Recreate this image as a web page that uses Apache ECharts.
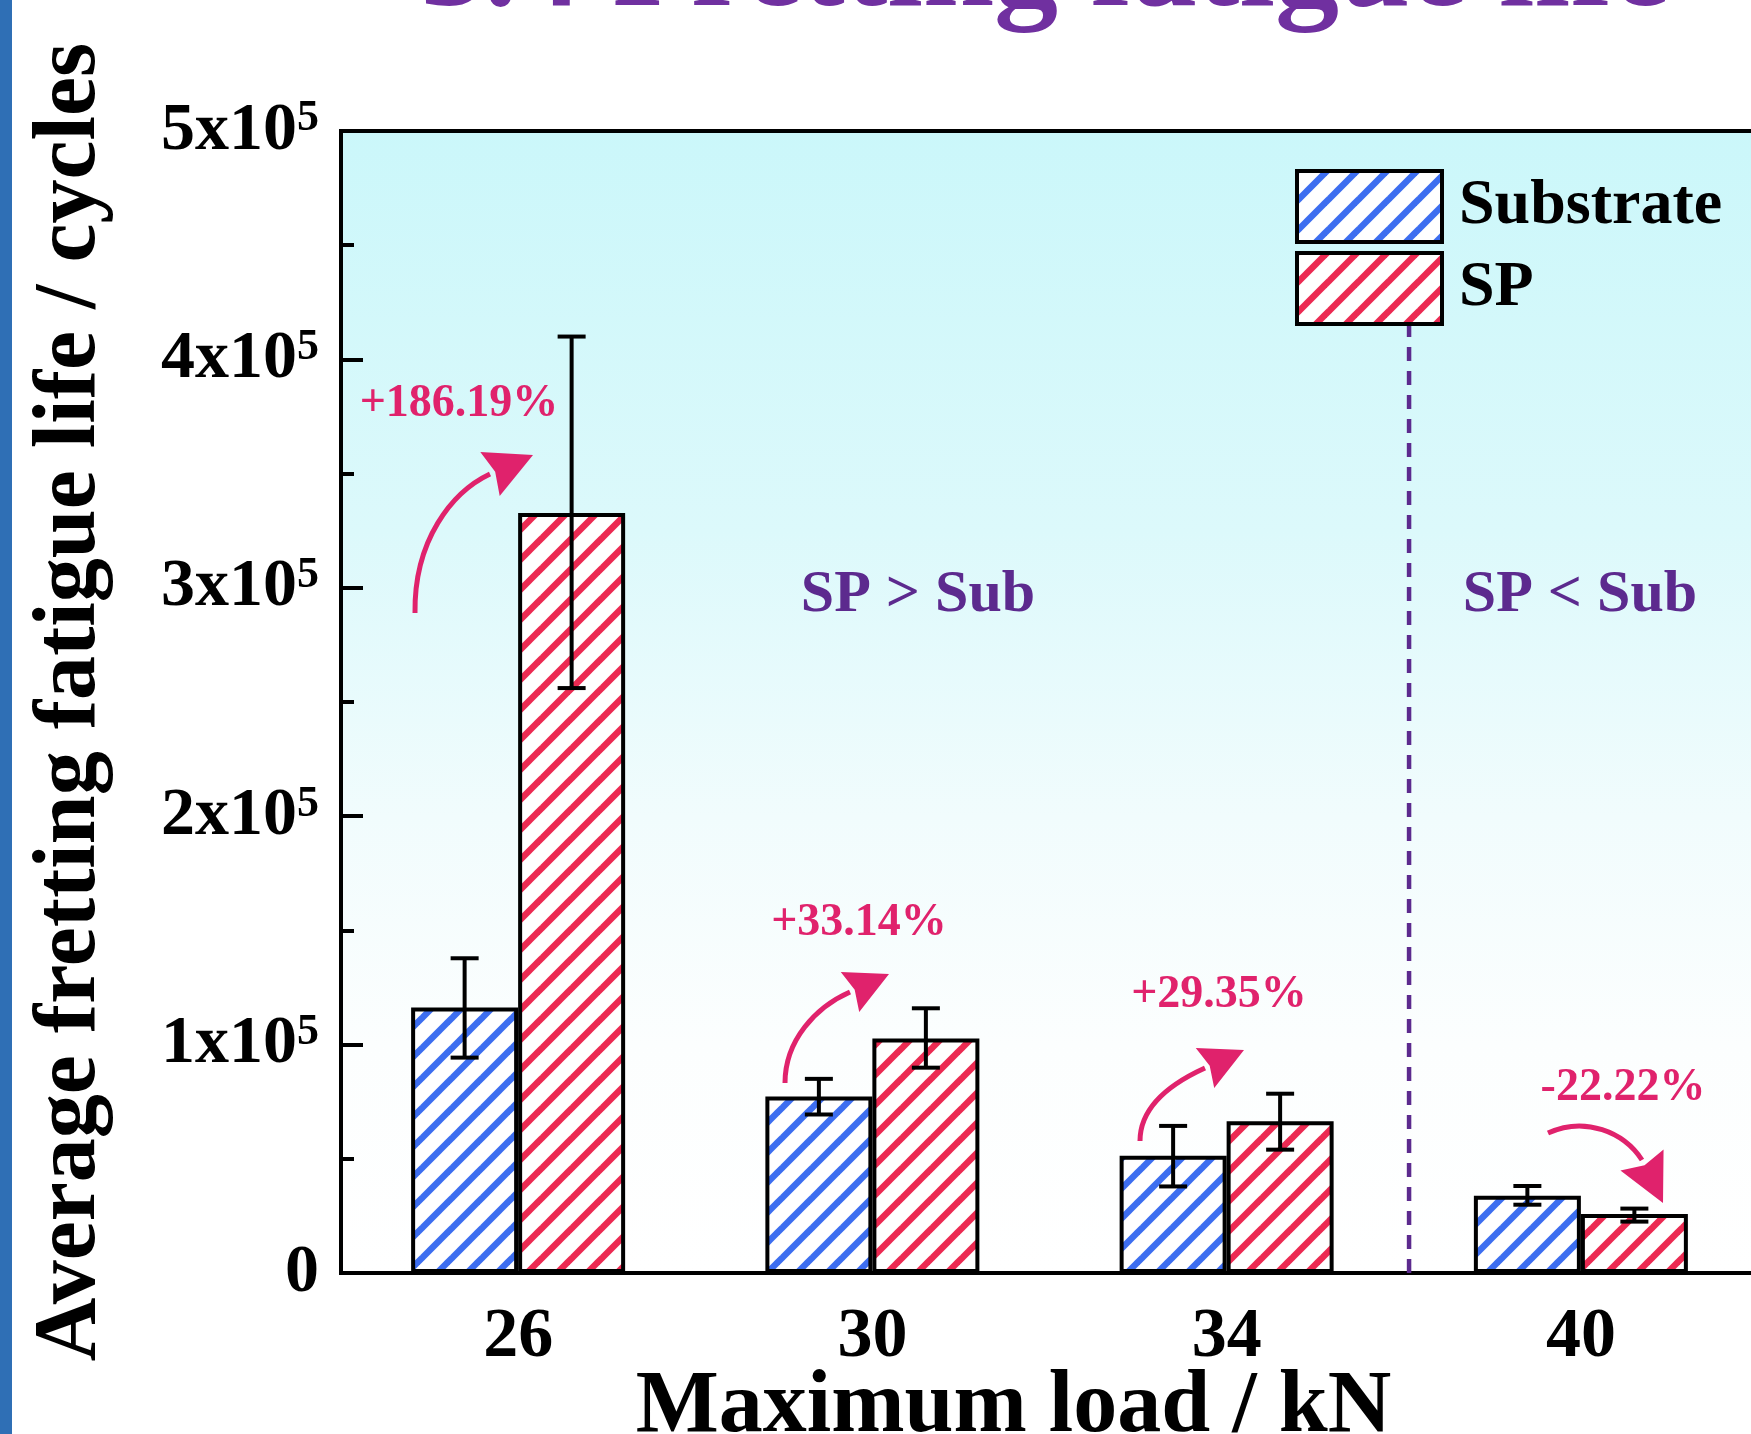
<!DOCTYPE html>
<html>
<head>
<meta charset="utf-8">
<script src="https://cdn.jsdelivr.net/npm/echarts@6/dist/echarts.min.js"></script>
<style>
html,body{margin:0;padding:0;background:#fff;}
#chart{width:1751px;height:1434px;}
</style>
</head>
<body>
<div id="chart"></div>
<script>
// ---------------- data ----------------
const categories = ['26', '30', '34', '40'];
const substrateLife = [1.162e5, 0.773e5, 0.513e5, 0.338e5];
const spLife = [3.328e5, 1.027e5, 0.664e5, 0.258e5];
const substrateErrLow = [0.943e5, 0.694e5, 0.379e5, 0.299e5];
const substrateErrHigh = [1.378e5, 0.850e5, 0.644e5, 0.381e5];
const spErrLow = [2.561e5, 0.899e5, 0.540e5, 0.225e5];
const spErrHigh = [4.100e5, 1.159e5, 0.785e5, 0.282e5];
const yTickLabels = ['0', '1x10^5', '2x10^5', '3x10^5', '4x10^5', '5x10^5'];
const changeLabels = ['+186.19%', '+33.14%', '+29.35%', '-22.22%'];
const regionLabels = ['SP > Sub', 'SP < Sub'];
const separatorAt = [2.515];      // boundary between 34 kN and 40 kN groups
const separatorTop = 4.15e5;

// ---------------- styling ----------------
const FONT = '"Liberation Serif", "Times New Roman", serif';
const BAR_W = 107;
const PINK = '#e0226c';
const PURPLE = '#5c2a8e';

function stripePattern(color) {
  const c = document.createElement('canvas');
  c.width = 30; c.height = 30;
  const g = c.getContext('2d');
  g.fillStyle = '#ffffff';
  g.fillRect(0, 0, 30, 30);
  g.strokeStyle = color;
  g.lineWidth = 6.5;
  for (const k of [-30, 0, 30]) {
    g.beginPath();
    g.moveTo(k - 5, 35);
    g.lineTo(k + 35, -5);
    g.stroke();
  }
  return c;
}
const bluePat = { image: stripePattern('#3d6ef0'), repeat: 'repeat' };
const redPat = { image: stripePattern('#ec2a52'), repeat: 'repeat' };

function errSeries(name, low, high, offset) {
  return {
    type: 'custom',
    name: name,
    xAxisIndex: 0, yAxisIndex: 0,
    z: 5,
    data: categories.map((c, i) => [i, low[i], high[i]]),
    encode: { x: 0, y: [1, 2] },
    renderItem: function (params, api) {
      const idx = api.value(0);
      const lo = api.coord([idx, api.value(1)]);
      const hi = api.coord([idx, api.value(2)]);
      const x = lo[0] + offset;
      const st = { stroke: '#000', lineWidth: 4 };
      const cap = 14;
      return {
        type: 'group',
        children: [
          { type: 'line', shape: { x1: x, y1: lo[1], x2: x, y2: hi[1] }, style: st },
          { type: 'line', shape: { x1: x - cap, y1: hi[1], x2: x + cap, y2: hi[1] }, style: st },
          { type: 'line', shape: { x1: x - cap, y1: lo[1], x2: x + cap, y2: lo[1] }, style: st }
        ]
      };
    }
  };
}

// arrows (annotation geometry, px)
const arrows = [
  { T: [415, 613], C1: [414, 540], C2: [452, 492], B: [490, 474], E: [533, 455], hw: 24 },
  { T: [785, 1083], C1: [785, 1040], C2: [816, 1007], B: [850, 992], E: [889, 974], hw: 22 },
  { T: [1140, 1141], C1: [1140, 1106], C2: [1172, 1083], B: [1205, 1068], E: [1244, 1050], hw: 22 },
  { T: [1548, 1133], C1: [1585, 1116], C2: [1624, 1132], B: [1642, 1160], E: [1663, 1203], hw: 24 }
];
const changePos = [[459, 404], [859, 923], [1219, 995], [1623, 1088]];
const regionPos = [[918, 595], [1580, 595]];

const graphics = [
  { type: 'rect', left: 0, top: 0, shape: { width: 12, height: 1434 }, style: { fill: '#2f6fb5' }, z: 10 },
  {
    type: 'text', x: 1045, y: -28, z: 10,
    style: { text: '3.4 Fretting fatigue life', font: 'bold 128px ' + FONT, fill: '#7030a0', align: 'center', verticalAlign: 'middle' }
  }
];
arrows.forEach(a => {
  graphics.push({
    type: 'bezierCurve', z: 20,
    shape: { x1: a.T[0], y1: a.T[1], cpx1: a.C1[0], cpy1: a.C1[1], cpx2: a.C2[0], cpy2: a.C2[1], x2: a.B[0], y2: a.B[1] },
    style: { stroke: PINK, lineWidth: 5, fill: null }
  });
  const dx = a.E[0] - a.B[0], dy = a.E[1] - a.B[1];
  const L = Math.hypot(dx, dy);
  const nx = -dy / L, ny = dx / L;
  graphics.push({
    type: 'polygon', z: 20,
    shape: { points: [[a.B[0] + nx * a.hw, a.B[1] + ny * a.hw], a.E, [a.B[0] - nx * a.hw, a.B[1] - ny * a.hw], [a.B[0] + dx * 0.12, a.B[1] + dy * 0.12]] },
    style: { fill: PINK }
  });
});
changeLabels.forEach((t, i) => {
  graphics.push({
    type: 'text', x: changePos[i][0], y: changePos[i][1], z: 20,
    style: { text: t, font: 'bold 46px ' + FONT, fill: PINK, align: 'center', verticalAlign: 'middle' }
  });
});
regionLabels.forEach((t, i) => {
  graphics.push({
    type: 'text', x: regionPos[i][0], y: regionPos[i][1], z: 20,
    style: { text: t, font: 'bold 60px ' + FONT, fill: PURPLE, align: 'center', verticalAlign: 'middle' }
  });
});

const chart = echarts.init(document.getElementById('chart'), null, { renderer: 'canvas' });
chart.setOption({
  backgroundColor: '#ffffff',
  animation: false,
  textStyle: { fontFamily: FONT },
  grid: {
    left: 341, top: 131, width: 1417, height: 1142,
    outerBoundsMode: 'none',
    containLabel: false,
    show: true,
    borderColor: '#000', borderWidth: 4,
    backgroundColor: {
      type: 'linear', x: 0, y: 0, x2: 0, y2: 1,
      colorStops: [
        { offset: 0, color: '#cbf7fa' },
        { offset: 0.35, color: '#dcf9fb' },
        { offset: 0.6, color: '#f1fcfd' },
        { offset: 0.8, color: '#fcfefe' },
        { offset: 1, color: '#ffffff' }
      ]
    }
  },
  legend: {
    data: ['Substrate', 'SP'],
    orient: 'vertical',
    left: 1295, top: 169,
    padding: 0,
    itemWidth: 145, itemHeight: 71, itemGap: 7,
    icon: 'rect',
    itemStyle: { borderColor: '#000', borderWidth: 4 },
    textStyle: { fontFamily: FONT, fontWeight: 'bold', fontSize: 64, color: '#000', padding: [0, 0, 0, 12] }
  },
  xAxis: [
    {
      type: 'category',
      data: categories,
      axisLine: { onZero: false, lineStyle: { color: '#000', width: 4 } },
      axisTick: { show: false },
      axisLabel: { fontFamily: FONT, fontWeight: 'bold', fontSize: 70, color: '#000', margin: 30 },
      name: 'Maximum load / kN',
      nameLocation: 'middle',
      nameGap: 91,
      nameMoveOverlap: false,
      nameTextStyle: { fontFamily: FONT, fontWeight: 'bold', fontSize: 88, color: '#000', padding: [0, 72, 0, 0] }
    },
    {
      type: 'value', min: -0.5, max: 3.5, show: false
    }
  ],
  yAxis: {
    type: 'value',
    min: 0, max: 5e5, interval: 1e5,
    axisLine: { show: true, onZero: false, lineStyle: { color: '#000', width: 4 } },
    axisTick: { show: true, inside: true, length: 22, lineStyle: { color: '#000', width: 4 } },
    minorTick: { show: true, splitNumber: 2, length: 13, lineStyle: { color: '#000', width: 4 } },
    splitLine: { show: false },
    axisLabel: {
      margin: 22,
      formatter: function (v, i) {
        const t = yTickLabels[i];
        if (t.indexOf('^') < 0) return '{b|' + t + '}';
        const p = t.split('^');
        return '{b|' + p[0] + '}{s|' + p[1] + '}';
      },
      rich: {
        b: { fontFamily: FONT, fontWeight: 'bold', fontSize: 68, lineHeight: 68, color: '#000' },
        s: { fontFamily: FONT, fontWeight: 'bold', fontSize: 44, lineHeight: 30, verticalAlign: 'top', color: '#000' }
      }
    },
    name: 'Average fretting fatigue life / cycles',
    nameLocation: 'middle',
    nameGap: 226,
    nameMoveOverlap: false,
    nameTextStyle: { fontFamily: FONT, fontWeight: 'bold', fontSize: 88, color: '#000' }
  },
  series: [
    {
      name: 'Substrate', type: 'bar', data: substrateLife,
      barWidth: BAR_W, barGap: '0%',
      itemStyle: { color: bluePat, borderColor: '#000', borderWidth: 4 }
    },
    {
      name: 'SP', type: 'bar', data: spLife,
      barWidth: BAR_W, barGap: '0%',
      itemStyle: { color: redPat, borderColor: '#000', borderWidth: 4 }
    },
    errSeries('SubstrateErr', substrateErrLow, substrateErrHigh, -BAR_W / 2),
    errSeries('SPErr', spErrLow, spErrHigh, BAR_W / 2),
    {
      name: 'separator', type: 'line', xAxisIndex: 1, yAxisIndex: 0,
      data: [[separatorAt[0], 0], [separatorAt[0], separatorTop]],
      symbol: 'none', z: 3,
      lineStyle: { color: PURPLE, width: 4.5, type: [14, 10] }
    }
  ],
  graphic: graphics
});
</script>
</body>
</html>
